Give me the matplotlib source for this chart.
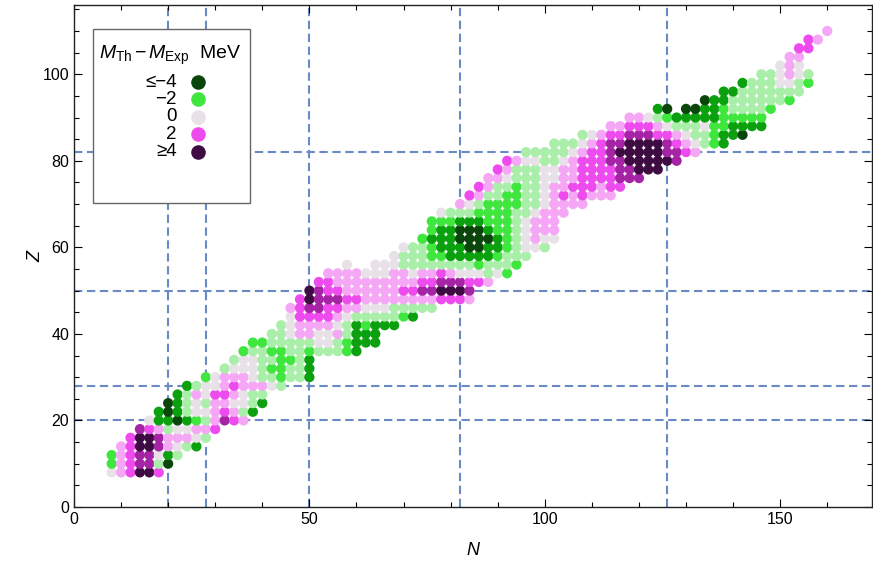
import numpy as np
import matplotlib
matplotlib.use('Agg')
from matplotlib import pyplot as plt
from matplotlib.colors import LinearSegmentedColormap
from matplotlib.patches import Rectangle

plt.rcParams['font.family'] = ['Liberation Sans', 'DejaVu Sans']
plt.rcParams['mathtext.fontset'] = 'custom'
plt.rcParams['mathtext.rm'] = 'Liberation Sans'
plt.rcParams['mathtext.it'] = 'Liberation Sans:italic'

# filas de nucleos par-par: Z de la fila, primer N de la fila y una letra por nucleo (N de 2 en 2)
z_rows = [8, 10, 12, 14, 16, 18, 20, 22, 24, 26, 28, 30, 32, 34, 36, 38, 40, 42, 44, 46,
          48, 50, 52, 54, 56, 58, 60, 62, 64, 66, 68, 70, 72, 74, 76, 78, 80, 82, 84, 86,
          88, 90, 92, 94, 96, 98, 100, 102, 104, 106, 108, 110]
n_first = [8, 8, 8, 10, 12, 14, 16, 18, 20, 22, 24, 28, 32, 34, 36, 38, 42, 44, 46, 46,
           48, 50, 52, 54, 58, 68, 70, 74, 76, 76, 78, 82, 84, 86, 88, 90, 92, 96, 102, 108,
           114, 118, 124, 134, 138, 142, 146, 150, 152, 154, 156, 160]
residual_codes = [
    "wpmPPm", "gpmMMlD", "gpmMMwGl", "pmPPMpwlG", "mPPMpppwl", "Mmplwwppm",
    "wGGDGglpMmp", "GDGlwwpmplG", "DGlwlppwwlG", "Glpwmmpwll", "Glwwpmpppwl",
    "gwpppwllgllG", "lwwwlggllG", "lwwllgglG", "gllggllglllgG", "gglllllwwlgGGG",
    "llwppwwplGGG", "lwppppwlGgGGG", "wmmmmpwlllllgG", "pmMMmmppwwwlllll",
    "mPMMMmmppppppppmmmp", "PMmmppppppmmMMPPPM", "mmpppppppppmmMMMmmp",
    "ppppwwwppwppmpwwwlwg", "w..wwwllllllllglllg", "wlllggGGGGGglll",
    "wllgGGGDDGGglwwl", "gGGGDDDDGglwpww", "gGGDDDGgglwppp", "gggGGGggglwppp",
    "wlllggggllwppp", "pwlggggllwpppp", "mpllggllwpmpmppp", "mpllgllwppmmmpmm",
    "ppwlllwwppmmmmMMM", "mplllwwppmmmmMMPPP", "mpwwllwpmmmMMPPPPPM",
    "lllllwpmmMPPPPPMMmp", "lllwpmMMPPPPMmpwlgG", "lwpmmMMMmmpwllgGGD",
    "ppmmmpwlllwggGGGG", "ppwlgGGGGGggggg", "GD.DDGGgllllg", "DGGllllllg",
    "GGlllllll", "Glllwwlg", "llwpwl", "wpw", "pp", "mm", "mp", "p"]

# letra -> M_Th - M_Exp en MeV ('.' = sin dato)
code_values = {'D': -4.5, 'G': -3.0, 'g': -2.0, 'l': -1.0, 'w': 0.0,
               'p': 1.0, 'm': 2.0, 'M': 3.0, 'P': 4.5}

magic_n = [20, 28, 50, 82, 126]
magic_z = [20, 28, 50, 82]

legend_values = [-4, -2, 0, 2, 4]
legend_labels = ['≤−4', '−2', '0', '2', '≥4']

N, Z, dM = [], [], []
for z, n0, codes in zip(z_rows, n_first, residual_codes):
    for i, c in enumerate(codes):
        if c == '.':
            continue
        N.append(n0 + 2 * i)
        Z.append(z)
        dM.append(code_values[c])

tonos = LinearSegmentedColormap.from_list('tonos', [
    (0.0, '#0a460c'), (0.125, '#0aa00e'), (0.25, '#3de63d'), (0.375, '#a8eea8'),
    (0.5, '#e8e2e8'), (0.625, '#f5a8f5'), (0.75, '#f04cf0'), (0.875, '#a824a8'),
    (1.0, '#3e0c42')])

fig = plt.figure(figsize=(8.73, 5.64), dpi=100)
ax = fig.add_axes([74 / 873, 57 / 564, 798 / 873, 502 / 564])

# lineas de numeros magicos
for n in magic_n:
    ax.axvline(n, color='#6a8ac6', lw=1.5, dashes=(4, 2.2), zorder=1)
for z in magic_z:
    ax.axhline(z, color='#6a8ac6', lw=1.5, dashes=(4, 2.2), zorder=1)

ax.scatter(N, Z, c=dM, cmap=tonos, vmin=-4, vmax=4, s=54, linewidths=0, zorder=2)

ax.set_xlim(0, 169.5)
ax.set_ylim(0, 116)
ax.set_xticks([0, 50, 100, 150])
ax.set_xticks(np.arange(0, 170, 10), minor=True)
ax.set_yticks([0, 20, 40, 60, 80, 100])
ax.set_yticks(np.arange(0, 116, 5), minor=True)
ax.tick_params(which='both', direction='in', top=True, right=True, labelsize=11.5, width=0.8)
ax.tick_params(which='major', length=6)
ax.tick_params(which='minor', length=3.5)
for s in ax.spines.values():
    s.set_linewidth(1.0)
    s.set_color('#222222')
ax.set_xlabel('N', style='italic', fontsize=13)
ax.set_ylabel('Z', style='italic', fontsize=13)
ax.xaxis.set_label_coords(0.5, -0.07)
ax.yaxis.set_label_coords(-0.037, 0.5)

# leyenda dibujada a mano
ax.add_patch(Rectangle((0.0238, 0.6056), 0.197, 0.3464, transform=ax.transAxes,
                       facecolor='white', edgecolor='#666666', lw=1.0, zorder=4))
ax.text(0.031, 0.900, r'$M_{\mathrm{Th}}\,$−$\,M_{\mathrm{Exp}}$  MeV', transform=ax.transAxes,
        fontsize=14, va='center', ha='left', zorder=5)
ys = [0.8466, 0.8127, 0.7769, 0.7430, 0.7072]
for v, lab, y in zip(legend_values, legend_labels, ys):
    ax.text(0.1285, y, lab, transform=ax.transAxes, fontsize=13.5, va='center', ha='right', zorder=5)
    ax.scatter([0.1554], [y], c=[v], cmap=tonos, vmin=-4, vmax=4, s=110, linewidths=0,
               transform=ax.transAxes, zorder=5, clip_on=False)

fig.savefig('out.png', dpi=100)
